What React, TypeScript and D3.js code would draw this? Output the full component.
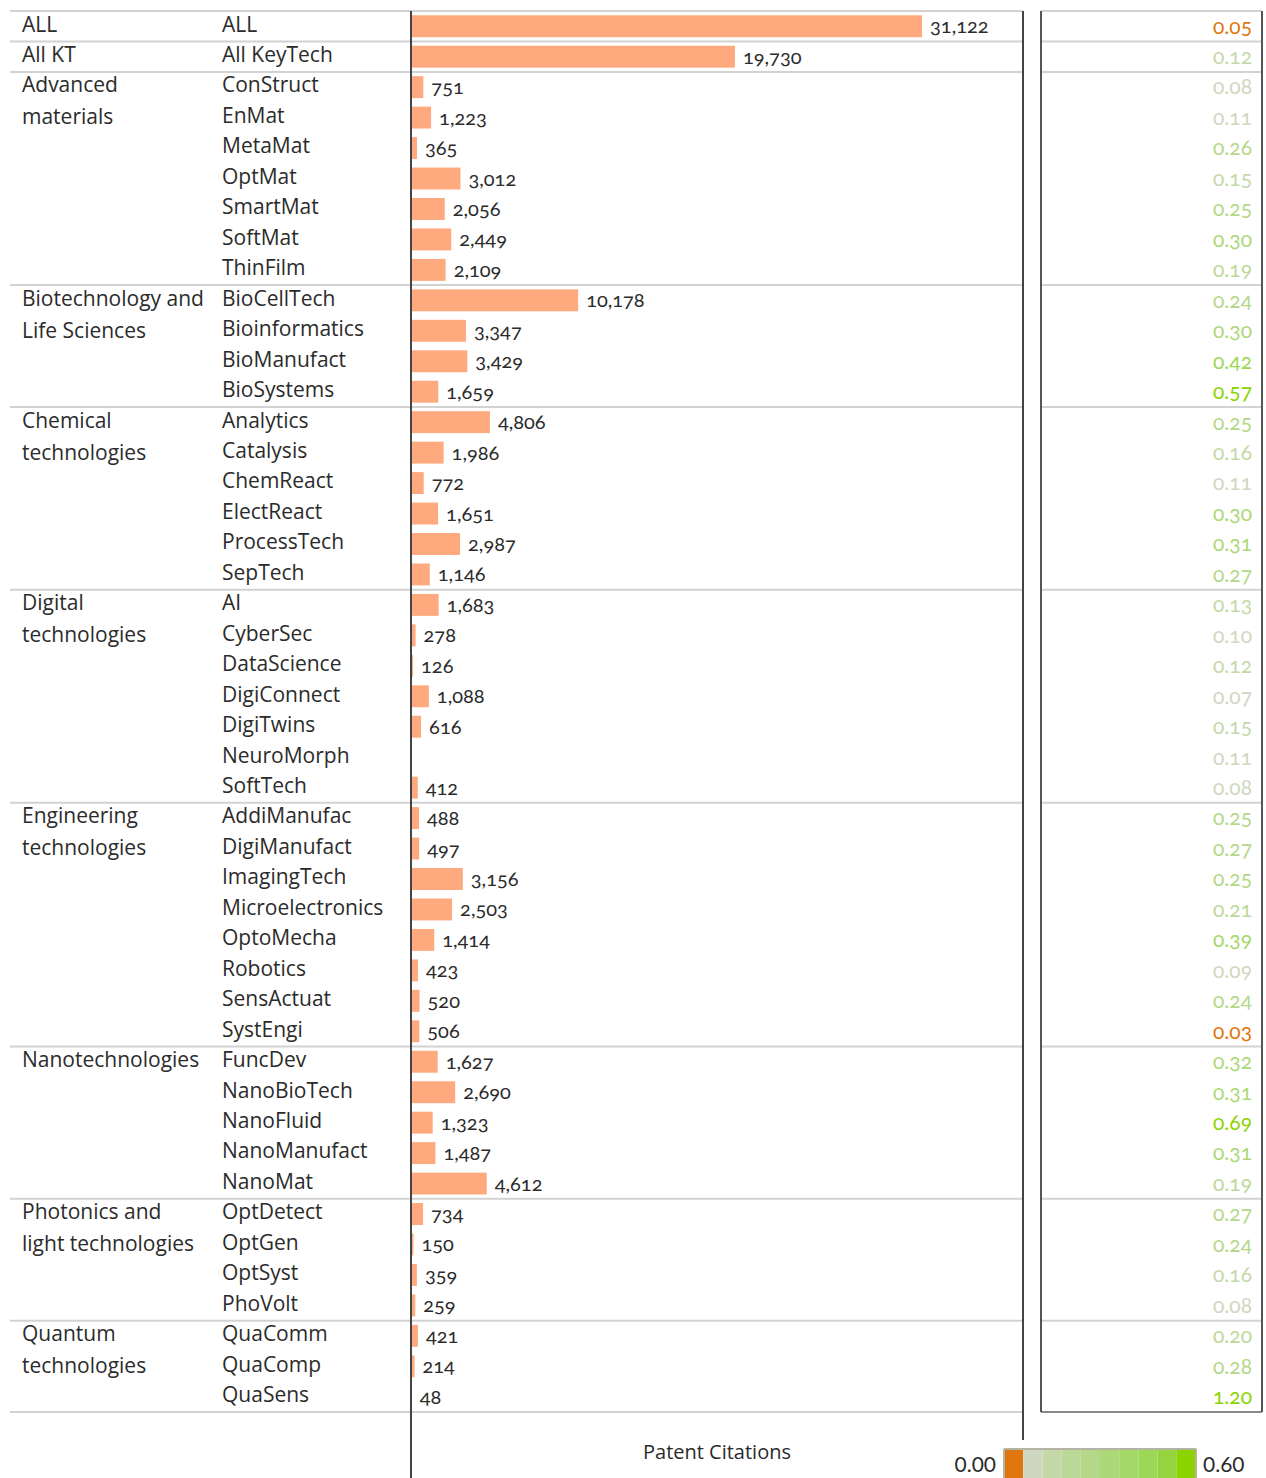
import * as d3 from "d3";

// one entry per row, top to bottom
const groupOf = [
  "ALL", "All KT",
  "Advanced materials", "Advanced materials", "Advanced materials", "Advanced materials", "Advanced materials", "Advanced materials", "Advanced materials",
  "Biotech", "Biotech", "Biotech", "Biotech",
  "Chemical", "Chemical", "Chemical", "Chemical", "Chemical", "Chemical",
  "Digital", "Digital", "Digital", "Digital", "Digital", "Digital", "Digital",
  "Engineering", "Engineering", "Engineering", "Engineering", "Engineering", "Engineering", "Engineering", "Engineering",
  "Nano", "Nano", "Nano", "Nano", "Nano",
  "Photonics", "Photonics", "Photonics", "Photonics",
  "Quantum", "Quantum", "Quantum",
];

const techLabels = [
  "ALL", "All KeyTech",
  "ConStruct", "EnMat", "MetaMat", "OptMat", "SmartMat", "SoftMat", "ThinFilm",
  "BioCellTech", "Bioinformatics", "BioManufact", "BioSystems",
  "Analytics", "Catalysis", "ChemReact", "ElectReact", "ProcessTech", "SepTech",
  "AI", "CyberSec", "DataScience", "DigiConnect", "DigiTwins", "NeuroMorph", "SoftTech",
  "AddiManufac", "DigiManufact", "ImagingTech", "Microelectronics", "OptoMecha", "Robotics", "SensActuat", "SystEngi",
  "FuncDev", "NanoBioTech", "NanoFluid", "NanoManufact", "NanoMat",
  "OptDetect", "OptGen", "OptSyst", "PhoVolt",
  "QuaComm", "QuaComp", "QuaSens",
];

const citations = [
  31122, 19730,
  751, 1223, 365, 3012, 2056, 2449, 2109,
  10178, 3347, 3429, 1659,
  4806, 1986, 772, 1651, 2987, 1146,
  1683, 278, 126, 1088, 616, null, 412,
  488, 497, 3156, 2503, 1414, 423, 520, 506,
  1627, 2690, 1323, 1487, 4612,
  734, 150, 359, 259,
  421, 214, 48,
];

const rates = [
  0.05, 0.12,
  0.08, 0.11, 0.26, 0.15, 0.25, 0.30, 0.19,
  0.24, 0.30, 0.42, 0.57,
  0.25, 0.16, 0.11, 0.30, 0.31, 0.27,
  0.13, 0.10, 0.12, 0.07, 0.15, 0.11, 0.08,
  0.25, 0.27, 0.25, 0.21, 0.39, 0.09, 0.24, 0.03,
  0.32, 0.31, 0.69, 0.31, 0.19,
  0.27, 0.24, 0.16, 0.08,
  0.20, 0.28, 1.20,
];

// group header text (may wrap on two lines)
const groupKeys = ["ALL", "All KT", "Advanced materials", "Biotech", "Chemical", "Digital", "Engineering", "Nano", "Photonics", "Quantum"];
const groupLines = [
  ["ALL"], ["All KT"], ["Advanced", "materials"], ["Biotechnology and", "Life Sciences"],
  ["Chemical", "technologies"], ["Digital", "technologies"], ["Engineering", "technologies"],
  ["Nanotechnologies"], ["Photonics and", "light technologies"], ["Quantum", "technologies"],
];

// stepped colour legend, 0.00 – 0.60
const colorSteps = ["#e0760c", "#d0d7c0", "#c5d8a9", "#bcd898", "#b4d888", "#acd877", "#a4d867", "#9cd756", "#94d53f", "#8cd400"];
const colorThresholds = [0.06, 0.12, 0.18, 0.24, 0.30, 0.36, 0.42, 0.48, 0.54];

const W = 1266;
const H = 1478;
const LABEL_FONT = "'Open Sans', sans-serif";
const NUM_FONT = "Lato, 'Open Sans', sans-serif";

export default function App() {
  const rows = d3.range(techLabels.length);
  const top = 11;
  const bottom = 1412;
  const axisX = 411;
  const paneRight = 1023;
  const rateLeft = 1041;
  const rateRight = 1262;

  const y = d3.scaleBand<number>().domain(rows).range([top, bottom]).paddingInner(0.28).paddingOuter(0.14);
  const step = y.step();
  const x = d3.scaleLinear().domain([0, 37270]).range([axisX, paneRight]);
  const color = d3.scaleThreshold<number, string>().domain(colorThresholds).range(colorSteps);
  const fmt = d3.format(",");

  // group boundaries
  const groupStart = groupKeys.map((g) => groupOf.indexOf(g));
  const boundaries = [0, ...groupKeys.map((g) => groupOf.lastIndexOf(g) + 1)];

  const legendX = d3.scaleLinear().domain([0, colorSteps.length]).range([1004, 1196]);

  return (
    <svg width={W} height={H} style={{ position: "absolute", left: 0, top: 0, background: "#fff" }} fontFamily={LABEL_FONT}>
      {/* row separators */}
      {boundaries.map((b, i) => (
        <g key={"b" + i}>
          <line x1={10} x2={paneRight} y1={top + b * step} y2={top + b * step} stroke="#d2d2d2" strokeWidth={2} />
          <line x1={rateLeft} x2={rateRight} y1={top + b * step} y2={top + b * step}
            stroke={b === techLabels.length ? "#8a8a8a" : "#d2d2d2"} strokeWidth={2} />
        </g>
      ))}

      {/* bars */}
      {rows.map((i) =>
        citations[i] == null ? null : (
          <rect key={"r" + i} x={axisX} y={y(i)} width={x(citations[i] as number) - axisX} height={y.bandwidth()} fill="#ffaa7e" />
        )
      )}

      {/* vertical rules */}
      <line x1={axisX} x2={axisX} y1={top} y2={H} stroke="#444" strokeWidth={2} />
      <line x1={paneRight} x2={paneRight} y1={top} y2={1440} stroke="#444" strokeWidth={2} />
      <line x1={rateLeft} x2={rateLeft} y1={top} y2={bottom} stroke="#555" strokeWidth={2} />
      <line x1={rateRight} x2={rateRight} y1={top} y2={bottom} stroke="#555" strokeWidth={2} />

      {/* group labels */}
      {groupKeys.map((g, gi) =>
        groupLines[gi].map((t, li) => (
          <text key={g + li} x={22} y={top + groupStart[gi] * step + step / 2 - 2 + li * 32} dy="0.35em" fontSize={21} fill="#2b2b2b">
            {t}
          </text>
        ))
      )}

      {/* tech labels, values, rates */}
      {rows.map((i) => {
        const cy = (y(i) as number) + y.bandwidth() / 2;
        return (
          <g key={"t" + i}>
            <text x={222} y={cy - 2} dy="0.35em" fontSize={21} fill="#2b2b2b">{techLabels[i]}</text>
            {citations[i] != null && (
              <text x={x(citations[i] as number) + 8} y={cy} dy="0.35em" fontSize={20} fill="#2b2b2b" fontFamily={NUM_FONT}
                style={{ fontVariantNumeric: "oldstyle-nums" }}>
                {fmt(citations[i] as number)}
              </text>
            )}
            <text x={1252} y={cy} dy="0.35em" fontSize={21} textAnchor="end" fill={color(rates[i])} fontFamily={NUM_FONT}
              style={{ fontVariantNumeric: "oldstyle-nums" }}>
              {rates[i].toFixed(2)}
            </text>
          </g>
        );
      })}

      {/* axis title */}
      <text x={(axisX + paneRight) / 2} y={1452} dy="0.35em" textAnchor="middle" fontSize={20} fill="#2b2b2b">Patent Citations</text>

      {/* colour legend */}
      {colorSteps.map((c, i) => (
        <rect key={"l" + i} x={legendX(i)} y={1449} width={legendX(i + 1) - legendX(i)} height={H - 1449} fill={c} />
      ))}
      <line x1={1004} x2={1196} y1={1449} y2={1449} stroke="#b4b4a4" strokeWidth={2} />
      <line x1={1004} x2={1004} y1={1449} y2={H} stroke="#b4b4a4" strokeWidth={2} />
      <line x1={1196} x2={1196} y1={1449} y2={H} stroke="#b4b4a4" strokeWidth={2} />
      <text x={996} y={1465} dy="0.35em" textAnchor="end" fontSize={21} fill="#2b2b2b" fontFamily={NUM_FONT}>0.00</text>
      <text x={1203} y={1465} dy="0.35em" fontSize={21} fill="#2b2b2b" fontFamily={NUM_FONT}>0.60</text>
    </svg>
  );
}
